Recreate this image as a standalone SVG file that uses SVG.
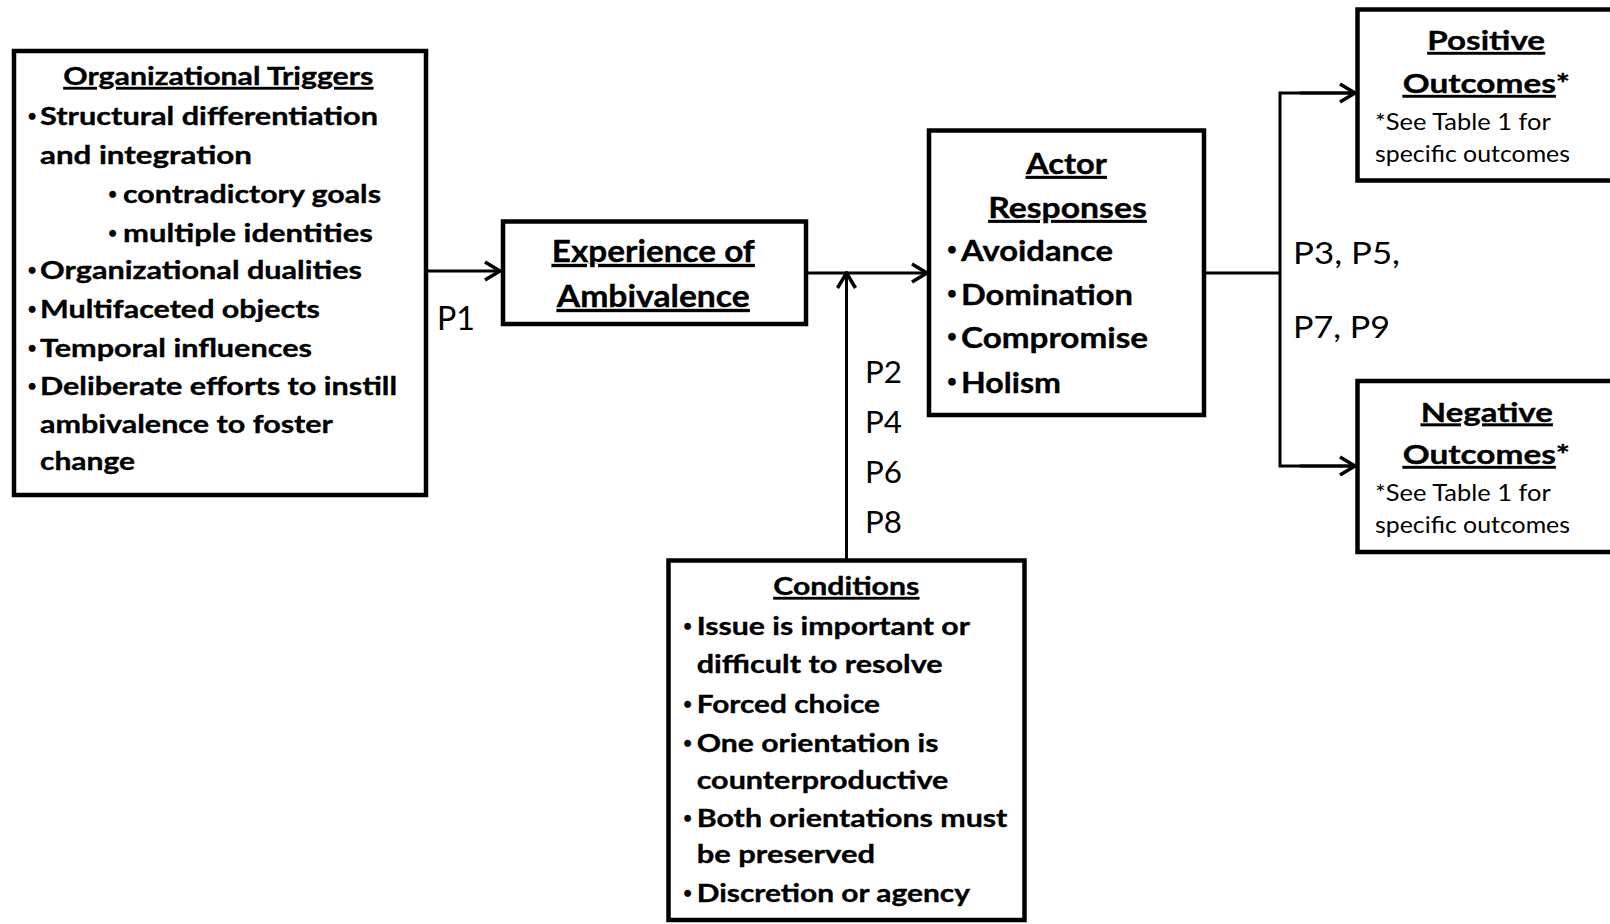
<svg xmlns="http://www.w3.org/2000/svg" width="1610" height="924" viewBox="0 0 1610 924">
<style>
.box{fill:#fff;stroke:#000;stroke-width:4.5}
.b{font-family:Lato,"Liberation Sans",sans-serif;font-weight:700;fill:#000;stroke:#000;stroke-width:0.35}
.r{font-family:Lato,"Liberation Sans",sans-serif;font-weight:400;fill:#000}
.t1{font-size:24.5px}
.t2{font-size:30px}
.t3{font-size:28.5px}
.t4{font-size:26px}
.sm{font-size:22.5px}
.p{font-size:31px}
.u{text-decoration:underline}
.m{text-anchor:middle}
.bl{font-size:15px}
.bl3{font-size:17px}
.con{fill:none;stroke:#000;stroke-width:3}
</style>
<defs>
<marker id="ah" markerUnits="userSpaceOnUse" viewBox="0 0 20 22" markerWidth="20" markerHeight="22" refX="17.5" refY="11" orient="auto">
<path d="M2.5,2 L17.5,11 L2.5,20" fill="none" stroke="#000" stroke-width="3.5"/>
</marker>
</defs>
<rect width="1610" height="924" fill="#fff"/>

<g id="connectors">
<line class="con" x1="426" y1="271" x2="500" y2="271" marker-end="url(#ah)"/>
<line class="con" x1="806" y1="273" x2="927" y2="273" marker-end="url(#ah)"/>
<line class="con" x1="846.5" y1="560" x2="846.5" y2="273" marker-end="url(#ah)"/>
<polyline class="con" points="1204,273 1280,273"/>
<polyline class="con" points="1355,93 1280,93 1280,466 1355,466"/>
<line class="con" x1="1300" y1="93" x2="1355" y2="93" marker-end="url(#ah)"/>
<line class="con" x1="1300" y1="466" x2="1355" y2="466" marker-end="url(#ah)"/>
<text class="r p" x="437" y="330" textLength="38" lengthAdjust="spacingAndGlyphs" style="font-size:32px">P1</text>
<text class="r p" x="865" y="383" textLength="37" lengthAdjust="spacingAndGlyphs">P2</text>
<text class="r p" x="865" y="433" textLength="37" lengthAdjust="spacingAndGlyphs">P4</text>
<text class="r p" x="865" y="483" textLength="37" lengthAdjust="spacingAndGlyphs">P6</text>
<text class="r p" x="865" y="533" textLength="37" lengthAdjust="spacingAndGlyphs">P8</text>
<text class="r p" x="1293" y="263.5" textLength="107" lengthAdjust="spacingAndGlyphs">P3, P5,</text>
<text class="r p" x="1293" y="338" textLength="97" lengthAdjust="spacingAndGlyphs">P7, P9</text>
</g>

<g id="triggers">
<rect class="box" x="14" y="51" width="412" height="444"/>
<text class="b t1 m u" x="218.3" y="85" textLength="310" lengthAdjust="spacingAndGlyphs">Organizational Triggers</text>
<g class="b bl m">
<text x="32" y="121">•</text>
<text x="112.5" y="199">•</text>
<text x="112.5" y="238">•</text>
<text x="32" y="274.5">•</text>
<text x="32" y="314">•</text>
<text x="32" y="353">•</text>
<text x="32" y="391">•</text>
</g>
<g class="b t1">
<text x="40" y="125" textLength="338" lengthAdjust="spacingAndGlyphs">Structural differentiation</text>
<text x="40" y="164" textLength="212" lengthAdjust="spacingAndGlyphs">and integration</text>
<text x="123" y="203" textLength="258" lengthAdjust="spacingAndGlyphs">contradictory goals</text>
<text x="123" y="242" textLength="250" lengthAdjust="spacingAndGlyphs">multiple identities</text>
<text x="40" y="278.5" textLength="322" lengthAdjust="spacingAndGlyphs">Organizational dualities</text>
<text x="40" y="318" textLength="280" lengthAdjust="spacingAndGlyphs">Multifaceted objects</text>
<text x="40" y="357" textLength="272" lengthAdjust="spacingAndGlyphs">Temporal influences</text>
<text x="40" y="395" textLength="357" lengthAdjust="spacingAndGlyphs">Deliberate efforts to instill</text>
<text x="40" y="433" textLength="293" lengthAdjust="spacingAndGlyphs">ambivalence to foster</text>
<text x="40" y="470" textLength="95" lengthAdjust="spacingAndGlyphs">change</text>
</g>
</g>

<g id="experience">
<rect class="box" x="503" y="221.5" width="303" height="102.5"/>
<text class="b t2 m u" x="653.3" y="262" textLength="203" lengthAdjust="spacingAndGlyphs">Experience of</text>
<text class="b t2 m u" x="653.3" y="307" textLength="193" lengthAdjust="spacingAndGlyphs">Ambivalence</text>
</g>

<g id="responses">
<rect class="box" x="929" y="130.5" width="275" height="284.5"/>
<text class="b t3 m u" x="1066.4" y="174" textLength="81" lengthAdjust="spacingAndGlyphs">Actor</text>
<text class="b t3 m u" x="1067.5" y="218" textLength="158.5" lengthAdjust="spacingAndGlyphs">Responses</text>
<g class="b bl3 m">
<text x="952" y="254.5">•</text>
<text x="952" y="299">•</text>
<text x="952" y="342">•</text>
<text x="952" y="386.5">•</text>
</g>
<g class="b t3">
<text x="961" y="260.5" textLength="152" lengthAdjust="spacingAndGlyphs">Avoidance</text>
<text x="961" y="305" textLength="172" lengthAdjust="spacingAndGlyphs">Domination</text>
<text x="961" y="348" textLength="187" lengthAdjust="spacingAndGlyphs">Compromise</text>
<text x="961" y="392.5" textLength="100" lengthAdjust="spacingAndGlyphs">Holism</text>
</g>
</g>

<g id="positive">
<rect class="box" x="1357.5" y="9.5" width="300" height="171"/>
<text class="b t4 m u" x="1486.2" y="50" textLength="117.7" lengthAdjust="spacingAndGlyphs">Positive</text>
<text class="b t4" x="1402.7" y="93" textLength="167.3" lengthAdjust="spacingAndGlyphs"><tspan class="u">Outcomes</tspan>*</text>
<text class="r sm" x="1375" y="130" textLength="175.7" lengthAdjust="spacingAndGlyphs">*See Table 1 for</text>
<text class="r sm" x="1375" y="161.7" textLength="195" lengthAdjust="spacingAndGlyphs">specific outcomes</text>
</g>

<g id="negative">
<rect class="box" x="1357.5" y="381" width="300" height="171"/>
<text class="b t4 m u" x="1486.8" y="421.5" textLength="132" lengthAdjust="spacingAndGlyphs">Negative</text>
<text class="b t4" x="1402.7" y="464" textLength="167.3" lengthAdjust="spacingAndGlyphs"><tspan class="u">Outcomes</tspan>*</text>
<text class="r sm" x="1375" y="501" textLength="175.7" lengthAdjust="spacingAndGlyphs">*See Table 1 for</text>
<text class="r sm" x="1375" y="533" textLength="195" lengthAdjust="spacingAndGlyphs">specific outcomes</text>
</g>

<g id="conditions">
<rect class="box" x="668.5" y="560.5" width="356" height="359.5"/>
<text class="b t1 m u" x="846.3" y="595" textLength="146" lengthAdjust="spacingAndGlyphs">Conditions</text>
<g class="b bl m">
<text x="687.5" y="631">•</text>
<text x="687.5" y="708.5">•</text>
<text x="687.5" y="747.5">•</text>
<text x="687.5" y="823">•</text>
<text x="687.5" y="897.5">•</text>
</g>
<g class="b t1">
<text x="696.7" y="635" textLength="273.3" lengthAdjust="spacingAndGlyphs">Issue is important or</text>
<text x="696.7" y="673" textLength="246" lengthAdjust="spacingAndGlyphs">difficult to resolve</text>
<text x="696.7" y="712.5" textLength="183.3" lengthAdjust="spacingAndGlyphs">Forced choice</text>
<text x="696.7" y="751.5" textLength="241.7" lengthAdjust="spacingAndGlyphs">One orientation is</text>
<text x="696.7" y="789" textLength="251.7" lengthAdjust="spacingAndGlyphs">counterproductive</text>
<text x="696.7" y="827" textLength="310.7" lengthAdjust="spacingAndGlyphs">Both orientations must</text>
<text x="696.7" y="863" textLength="178.3" lengthAdjust="spacingAndGlyphs">be preserved</text>
<text x="696.7" y="901.5" textLength="273.3" lengthAdjust="spacingAndGlyphs">Discretion or agency</text>
</g>
</g>
</svg>
